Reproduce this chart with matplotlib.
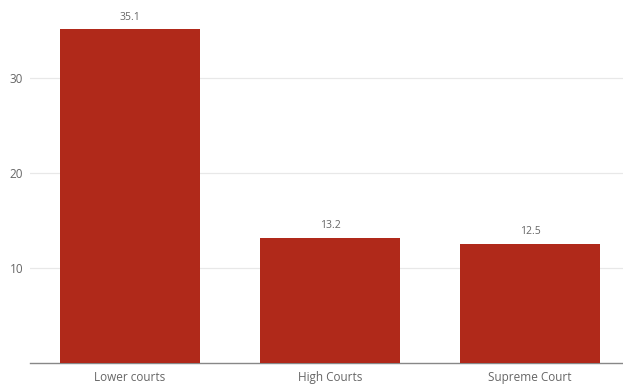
import matplotlib
matplotlib.use("Agg")
import matplotlib.pyplot as plt

categories = ["Lower courts", "High Courts", "Supreme Court"]
values = [35.1, 13.2, 12.5]
yticks = [10, 20, 30]

BAR = "#b0291a"
GRID = "#e8e8e8"
TEXT = "#666666"

plt.rcParams["font.family"] = ["Open Sans", "DejaVu Sans"]

fig = plt.figure(figsize=(6.23, 3.88), dpi=100)
ax = fig.add_axes([30 / 623, 25 / 388, 593 / 623, 363 / 388])

x = range(len(categories))
bars = ax.bar(x, values, width=0.7, color=BAR, zorder=3)
for b, v in zip(bars, values):
    ax.annotate(f"{v}", (b.get_x() + b.get_width() / 2, v), xytext=(0, 5),
                textcoords="offset points", ha="center", va="bottom",
                fontsize=7.5, color=TEXT)

ax.set_xlim(-0.5, 2.465)
ax.set_ylim(0, 38.2)
ax.set_yticks(yticks)
ax.set_xticks(list(x))
ax.set_xticklabels(categories)
ax.grid(axis="y", color=GRID, linewidth=0.9, zorder=0)
for s in ("top", "right", "left"):
    ax.spines[s].set_visible(False)
ax.spines["bottom"].set_color("#888888")
ax.spines["bottom"].set_linewidth(1.0)
ax.tick_params(axis="both", length=0, labelsize=8.5, colors=TEXT)
ax.tick_params(axis="x", pad=6)
ax.tick_params(axis="y", pad=5)

fig.savefig("out.png", dpi=100)
